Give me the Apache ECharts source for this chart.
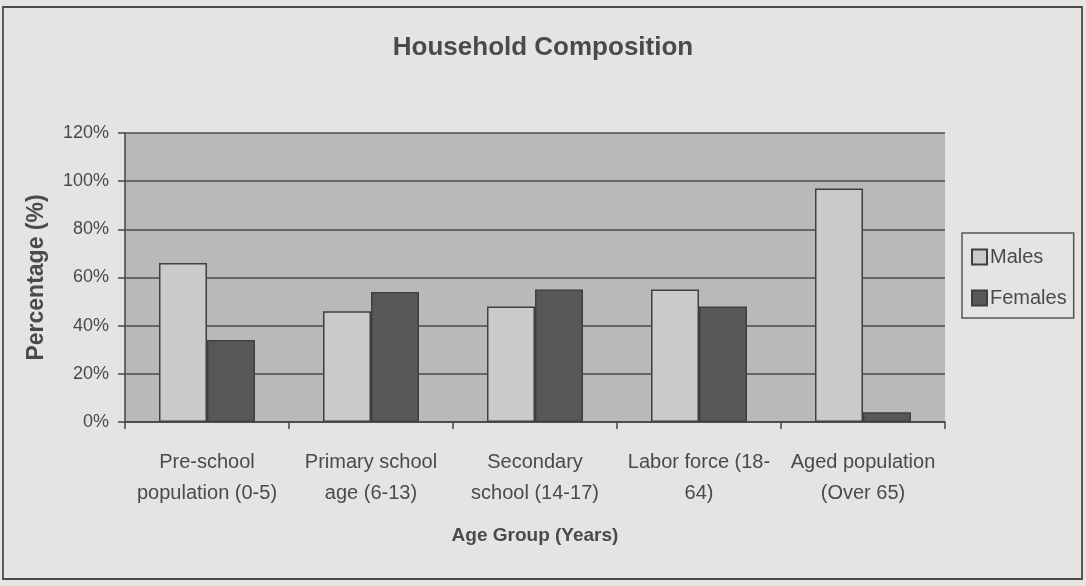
<!DOCTYPE html>
<html>
<head>
<meta charset="utf-8">
<script src="https://cdn.jsdelivr.net/npm/echarts@6/dist/echarts.min.js"></script>
<style>
html,body{margin:0;padding:0;background:#e4e4e2;}
#c{width:1086px;height:586px;}
</style>
</head>
<body>
<div id="c"></div>
<script>
const categories = ['Pre-school\npopulation (0-5)', 'Primary school\nage (6-13)', 'Secondary\nschool (14-17)', 'Labor force (18-\n64)', 'Aged population\n(Over 65)'];
const males = [66, 46, 48, 55, 97];
const females = [34, 54, 55, 48, 4];
const yTicks = [0, 20, 40, 60, 80, 100, 120];

const FONT = "'Liberation Sans', Arial, sans-serif";
const TXT = '#4a4a4a';
const chart = echarts.init(document.getElementById('c'), null, {renderer: 'canvas'});
chart.setOption({
  backgroundColor: '#e4e4e2',
  animation: false,
  title: {
    text: 'Household Composition',
    left: 'center', top: 35, padding: 0,
    textStyle: {fontFamily: FONT, fontSize: 26, fontWeight: 'bold', color: TXT}
  },
  graphic: [{
    type: 'rect', shape: {x: 3, y: 7, width: 1079, height: 572},
    style: {fill: 'none', stroke: '#4a4a4a', lineWidth: 1.8}, silent: true
  }],
  legend: {
    orient: 'vertical', left: 962, top: 233,
    padding: [14, 7, 10, 9], itemGap: 21,
    itemWidth: 15, itemHeight: 15, icon: 'rect',
    borderColor: '#555', borderWidth: 1.5, backgroundColor: '#e4e4e2',
    textStyle: {fontFamily: FONT, fontSize: 20, color: TXT, padding: [0, 0, 0, -2]},
    data: ['Males', 'Females']
  },
  grid: {
    left: 125, right: 141, top: 133, bottom: 164,
    show: true, backgroundColor: '#b9b9b9', borderWidth: 0
  },
  xAxis: {
    type: 'category', data: categories,
    name: 'Age Group (Years)', nameLocation: 'middle', nameGap: 104,
    nameTextStyle: {fontFamily: FONT, fontSize: 19, fontWeight: 'bold', color: TXT},
    axisLine: {lineStyle: {color: '#444', width: 1.5}},
    axisTick: {show: true, length: 7, lineStyle: {color: '#444', width: 1.5}},
    axisLabel: {fontFamily: FONT, fontSize: 20, color: TXT, margin: 25, lineHeight: 31, interval: 0}
  },
  yAxis: {
    type: 'value', min: 0, max: 120, interval: 20,
    name: 'Percentage (%)', nameLocation: 'middle', nameGap: 77, nameRotate: 90,
    nameTextStyle: {fontFamily: FONT, fontSize: 23, fontWeight: 'bold', color: TXT},
    axisLine: {show: true, lineStyle: {color: '#444', width: 1.5}},
    axisTick: {show: true, length: 7, lineStyle: {color: '#444', width: 1.5}},
    axisLabel: {fontFamily: FONT, fontSize: 18, color: TXT, margin: 16,
      formatter: v => yTicks.includes(v) ? v + '%' : ''},
    splitLine: {show: true, lineStyle: {color: '#4d4d4d', width: 1.5}}
  },
  series: [
    {name: 'Males', type: 'bar', data: males, barWidth: 48, barGap: '0%',
     itemStyle: {color: '#cacac8', borderColor: '#3f3f3f', borderWidth: 1.5}},
    {name: 'Females', type: 'bar', data: females, barWidth: 48,
     itemStyle: {color: '#585858', borderColor: '#3f3f3f', borderWidth: 1.5}}
  ]
});
</script>
</body>
</html>
